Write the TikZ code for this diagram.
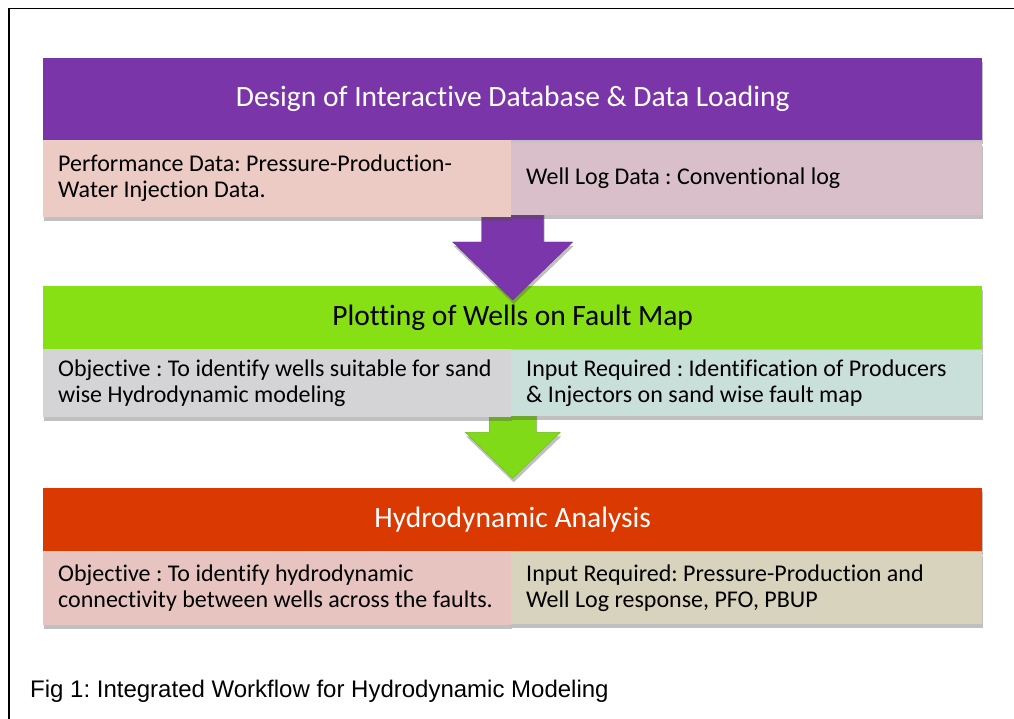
\documentclass[tikz,border=0pt]{standalone}
\usepackage{fontspec}
\setmainfont{Carlito}[Ligatures=NoCommon]
\newfontfamily\capfont{Liberation Sans}
\usetikzlibrary{shadows,calc}
\frenchspacing
\definecolor{hpurple}{HTML}{7A35A9}
\definecolor{hgreen}{HTML}{86E014}
\definecolor{hred}{HTML}{DA3A02}
\definecolor{sA}{HTML}{ECCBC4}
\definecolor{sB}{HTML}{D9BFC9}
\definecolor{sC}{HTML}{D4D4D6}
\definecolor{sD}{HTML}{C9DFD9}
\definecolor{sE}{HTML}{E7C4C0}
\definecolor{sF}{HTML}{D8D3BD}
\definecolor{apurple}{HTML}{7C36AB}
\definecolor{agreen}{HTML}{80DA18}
\tikzset{
  x=1pt,y=-1pt,
  shad/.style={drop shadow={shadow xshift=1pt,shadow yshift=-4pt,opacity=0.35,fill=black!70}},
  header/.style={shad,rectangle,anchor=north west,inner sep=0pt,minimum width=939pt,
     font=\fontsize{29.5}{34}\selectfont},
  subbox/.style={shad,rectangle,anchor=north west,inner sep=0pt},
  subtxt/.style={anchor=west,align=left,inner sep=0pt,font=\fontsize{24}{26}\selectfont},
  blockarrow/.style={shad,draw=#1!85!black,line width=0.4pt,fill=#1},
}
\begin{document}
\frenchspacing
\begin{tikzpicture}
\fill[white] (0,0) rectangle (1014,719);
\useasboundingbox (0,0) rectangle (1014,719);
\draw[line width=1.8pt] (9,719) -- (9,8.5) -- (1014,8.5);

% box 3
\node[header,fill=hred,text=white,minimum height=63pt] (h3) at (43,488) {Hydrodynamic Analysis};
\node[subbox,fill=sE,minimum width=468pt,minimum height=74pt] (s3L) at (43,551) {};
\node[subbox,fill=sF,minimum width=471pt,minimum height=72pt] (s3R) at (511,552) {};
\node[subtxt] (t3L) at ([xshift=15pt]s3L.west) {Objective : To identify hydrodynamic\\connectivity between wells across the faults.};
\node[subtxt] (t3R) at ([xshift=15pt]s3R.west) {Input Required: Pressure-Production and\\Well Log response, PFO, PBUP};

% box 2 header
\node[header,fill=hgreen,text=black,minimum height=63pt] (h2) at (43,286) {Plotting of Wells on Fault Map};

% arrows
\fill[blockarrow=apurple] ([shift={(-31,-76)}]h2.north) -- ++(62,0) -- ++(0,32) -- ++(29,0)
   -- ++(-60,58) -- ++(-60,-58) -- ++(29,0) -- cycle;
\fill[blockarrow=agreen] ([shift={(-23.5,61)}]h2.south) -- ++(47,0) -- ++(0,22) -- ++(24,0)
   -- ++(-47.5,46) -- ++(-47.5,-46) -- ++(24,0) -- cycle;

% box 2 subs
\node[subbox,fill=sC,minimum width=468pt,minimum height=68pt] (s2L) at (43,349) {};
\node[subbox,fill=sD,minimum width=471pt,minimum height=66pt] (s2R) at (511,350) {};
\node[subtxt] (t2L) at ([xshift=15pt]s2L.west) {Objective : To identify wells suitable for sand\\wise Hydrodynamic modeling};
\node[subtxt] (t2R) at ([xshift=15pt]s2R.west) {Input Required : Identification of Producers\\\& Injectors on sand wise fault map};

% box 1
\node[header,fill=hpurple,text=white,minimum height=82pt] (h1) at (43,58) {Design of Interactive Database \& Data Loading};
\node[subbox,fill=sA,minimum width=468pt,minimum height=77pt] (s1L) at (43,140) {};
\node[subbox,fill=sB,minimum width=471pt,minimum height=73pt] (s1R) at (511,142) {};
\node[subtxt] (t1L) at ([xshift=15pt]s1L.west) {Performance Data: Pressure-Production-\\Water Injection Data.};
\node[subtxt] (t1R) at ([xshift=15pt]s1R.west) {Well Log Data : Conventional log};

% caption
\node[anchor=base west,inner sep=0pt,font=\capfont\fontsize{24}{28}\selectfont] (cap) at (30,697) {Fig 1: Integrated Workflow for Hydrodynamic Modeling};
\end{tikzpicture}
\end{document}
